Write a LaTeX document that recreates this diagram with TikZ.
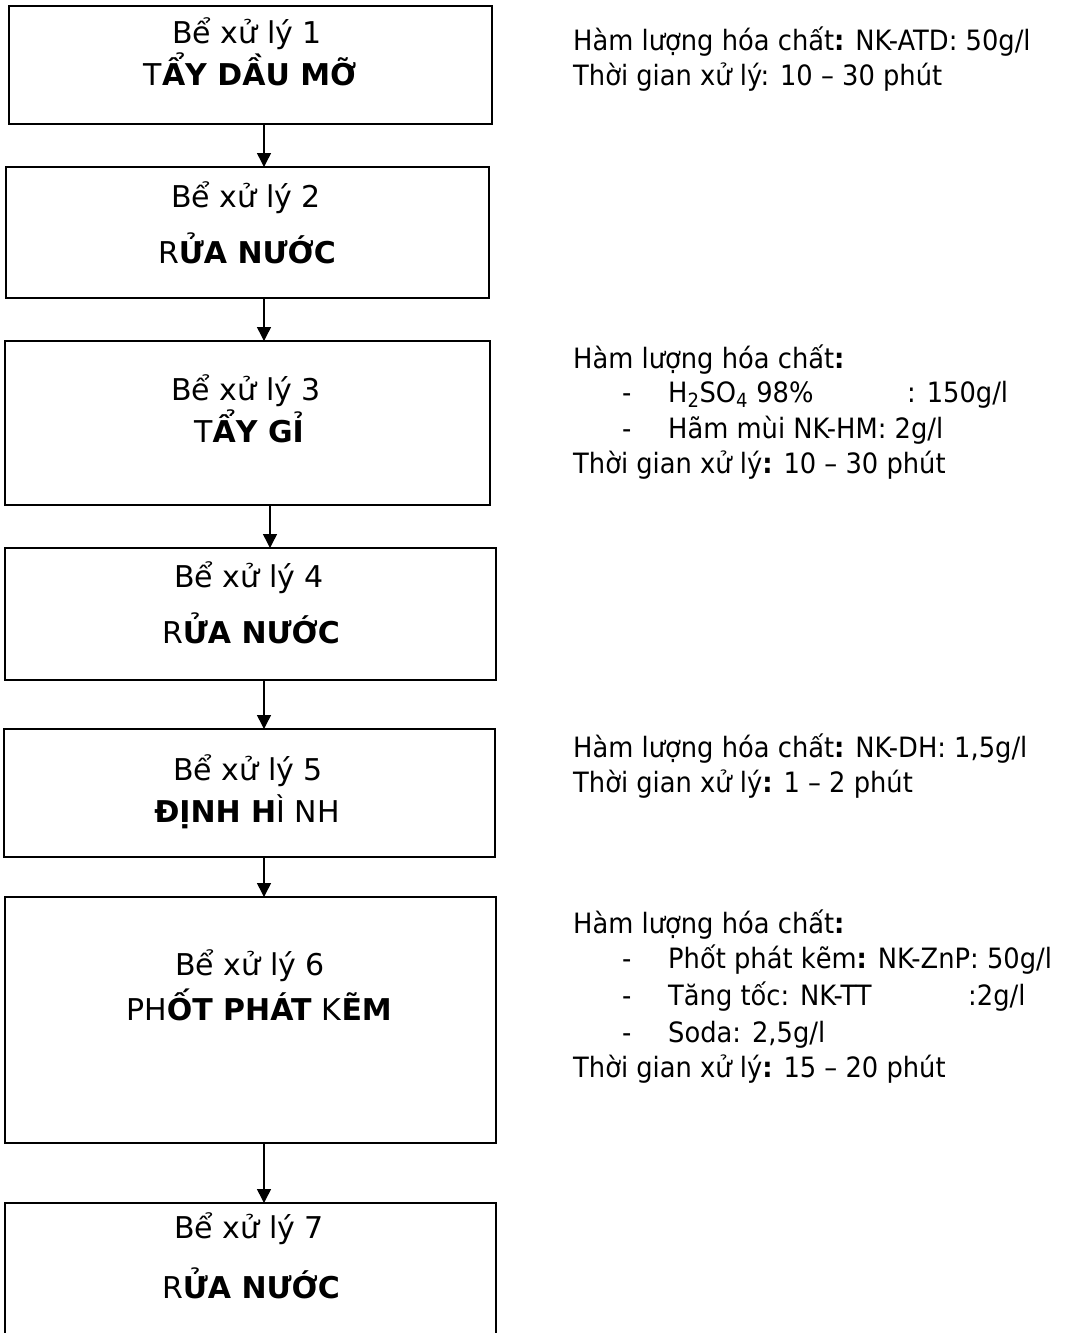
\documentclass[tikz,border=0pt]{standalone}
\usepackage{fontspec}
\setmainfont{DejaVu Sans}
\newfontfamily\notefont{DejaVu Sans}[FakeStretch=0.92]
\usetikzlibrary{arrows.meta}
\tikzset{ tank/.style={draw,line width=1.8pt,inner sep=0pt,outer sep=0pt},
  lbl/.style={anchor=base,inner sep=0pt,font=\fontsize{30}{36}\selectfont},
  note/.style={anchor=base west,inner sep=0pt,font=\notefont\fontsize{28}{33}\selectfont},
  flow/.style={line width=1.5pt,-{Triangle[length=14pt,width=14pt]}}}

\begin{document}
\begin{tikzpicture}[x=1pt,y=-1pt]
\useasboundingbox (0,0) rectangle (1083,1333);
  % tanks
  \foreach \pos/\w/\h/\name in {{(250.5,65)/483/118/b1}, {(247.5,232.5)/483/131/b2},
        {(247.5,423)/485/164/b3}, {(250.5,614)/491/132/b4}, {(249.5,793)/491/128/b5},
        {(250.5,1020)/491/246/b6}, {(250.5,1278)/491/150/b7}}
        \node[tank,minimum width=\w pt,minimum height=\h pt] (\name) at \pos {};
  \foreach \x/\y/\txt/\name in {247/43/{Bể xử lý 1}/t1, 250/85/{T\textbf{ẨY DẦU MỠ}}/n1,
        246/207/{Bể xử lý 2}/t2, 247/263/{R\textbf{ỬA NƯỚC}}/n2,
        246/400/{Bể xử lý 3}/t3, 249/442/{T\textbf{ẨY GỈ}}/n3,
        249/587/{Bể xử lý 4}/t4, 251/643/{R\textbf{ỬA NƯỚC}}/n4,
        248/780/{Bể xử lý 5}/t5, 247/822/{\textbf{ĐỊNH H}Ì NH}/n5,
        250/975/{Bể xử lý 6}/t6, 259/1020/{PH\textbf{ỐT PHÁT} K\textbf{ẼM}}/n6,
        249/1238/{Bể xử lý 7}/t7, 251/1298/{R\textbf{ỬA NƯỚC}}/n7}
        \node[lbl] (\name) at (\x,\y) {\txt};
  % arrows
  \foreach \from/\to/\dx in {b1/b2/13.5, b2/b3/16.5, b3/b4/22.5, b4/b5/13.5, b5/b6/14.5, b6/b7/13.5}
        \draw[flow] (\from.south) ++(\dx,0) coordinate (s) -- (s |- \to.north);
  % notes
  \foreach \x/\y/\txt/\name in {573/50/{Hàm lượng hóa chất\textbf{:} NK-ATD: 50g/l}/h1,
        573/85/{Thời gian xử lý: 10 – 30 phút}/g1,
        573/368/{Hàm lượng hóa chất\textbf{:}}/h3,
        622/402/{-}/d3a, 668/402/{H\textsubscript{2}SO\textsubscript{4} 98\%}/c3a, 907/402/{: 150g/l}/v3a,
        622/438/{-}/d3b, 668/438/{Hãm mùi NK-HM: 2g/l}/c3b,
        573/473/{Thời gian xử lý\textbf{:} 10 – 30 phút}/g3,
        573/757/{Hàm lượng hóa chất\textbf{:} NK-DH: 1,5g/l}/h5,
        573/792/{Thời gian xử lý\textbf{:} 1 – 2 phút}/g5,
        573/933/{Hàm lượng hóa chất\textbf{:}}/h6,
        622/968/{-}/d6a, 668/968/{Phốt phát kẽm\textbf{:} NK-ZnP: 50g/l}/c6a,
        622/1005/{-}/d6b, 668/1005/{Tăng tốc: NK-TT}/c6b, 968/1005/{:2g/l}/v6b,
        622/1042/{-}/d6c, 668/1042/{Soda: 2,5g/l}/c6c,
        573/1077/{Thời gian xử lý\textbf{:} 15 – 20 phút}/g6}
        \node[note] (\name) at (\x,\y) {\txt};
\end{tikzpicture}
\end{document}
